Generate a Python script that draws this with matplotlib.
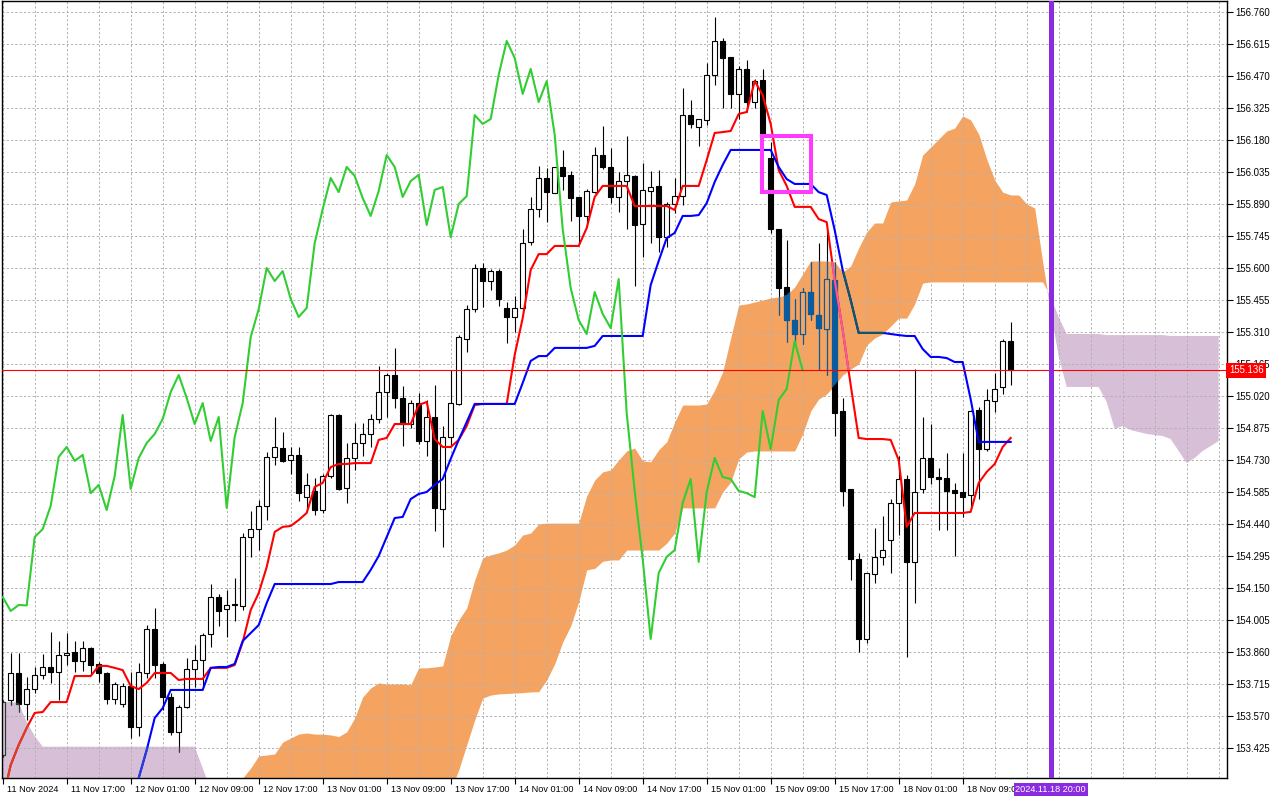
import matplotlib
matplotlib.use("Agg")
import matplotlib.pyplot as plt
import numpy as np
from matplotlib.path import Path
from matplotlib.patches import PathPatch, Rectangle
from matplotlib.transforms import ScaledTranslation, blended_transform_factory

# ---------------- data (USDJPY H1) ----------------
OPEN = [153.393, 153.642, 153.764, 153.624, 153.692, 153.756, 153.792, 153.769, 153.846, 153.860,
        153.819, 153.878, 153.806, 153.765, 153.647, 153.624, 153.706, 153.520, 153.765, 153.964,
        153.806, 153.656, 153.498, 153.611, 153.783, 153.824, 153.942, 154.109, 154.055, 154.078,
        154.068, 154.381, 154.417, 154.522, 154.744, 154.784, 154.730, 154.753, 154.562, 154.590,
        154.503, 154.658, 154.934, 154.603, 154.739, 154.807, 154.848, 154.916, 155.038, 155.115,
        155.011, 154.893, 154.988, 154.816, 154.925, 154.508, 154.834, 154.984, 155.278, 155.414,
        155.600, 155.541, 155.586, 155.419, 155.378, 155.419, 155.718, 155.867, 156.008, 155.940,
        156.058, 156.022, 155.922, 155.836, 155.944, 156.112, 156.058, 155.922, 155.994, 156.017,
        155.799, 155.949, 155.972, 155.740, 155.890, 155.926, 156.293, 156.239, 156.271, 156.475,
        156.629, 156.556, 156.389, 156.502, 156.352, 156.452, 156.099, 155.777, 155.514, 155.364,
        155.301, 155.491, 155.387, 155.324, 155.546, 154.952, 154.599, 154.281, 153.919, 154.214,
        154.291, 154.368, 154.535, 154.644, 154.268, 154.599, 154.739, 154.653, 154.648, 154.594,
        154.585, 154.571, 154.957, 154.780, 154.997, 155.061, 155.269]
HIGH = [153.643, 153.854, 153.855, 153.747, 153.792, 153.851, 153.951, 153.910, 153.946, 153.910,
        153.910, 153.883, 153.815, 153.769, 153.724, 153.720, 153.769, 153.810, 153.982, 154.059,
        153.815, 153.674, 153.620, 153.833, 153.892, 153.946, 154.168, 154.123, 154.141, 154.195,
        154.399, 154.499, 154.549, 154.766, 154.925, 154.857, 154.789, 154.789, 154.671, 154.648,
        154.667, 154.938, 154.938, 154.807, 154.898, 154.898, 154.938, 155.156, 155.124, 155.238,
        155.065, 155.002, 155.034, 155.002, 155.070, 154.884, 155.138, 155.296, 155.432, 155.618,
        155.623, 155.595, 155.595, 155.446, 155.473, 155.777, 155.922, 156.062, 156.053, 156.058,
        156.135, 156.040, 155.922, 155.958, 156.148, 156.244, 156.144, 156.035, 156.198, 156.022,
        156.076, 156.040, 156.044, 155.899, 156.008, 156.416, 156.361, 156.275, 156.529, 156.737,
        156.642, 156.556, 156.515, 156.543, 156.456, 156.502, 156.171, 155.777, 155.727, 155.460,
        155.509, 155.627, 155.713, 155.768, 155.627, 155.011, 154.599, 154.309, 154.218, 154.422,
        154.476, 154.553, 154.748, 154.662, 155.142, 154.925, 154.893, 154.694, 154.762, 154.626,
        154.762, 154.957, 154.970, 155.052, 155.124, 155.278, 155.355]
LOW = [153.384, 153.620, 153.588, 153.552, 153.674, 153.738, 153.720, 153.642, 153.801, 153.769,
       153.774, 153.756, 153.724, 153.624, 153.624, 153.611, 153.470, 153.479, 153.742, 153.742,
       153.597, 153.484, 153.407, 153.606, 153.701, 153.701, 153.883, 153.978, 153.928, 154.000,
       154.050, 154.291, 154.322, 154.458, 154.707, 154.722, 154.667, 154.544, 154.503, 154.481,
       154.490, 154.648, 154.594, 154.535, 154.685, 154.748, 154.789, 154.898, 154.925, 154.966,
       154.793, 154.875, 154.803, 154.748, 154.408, 154.336, 154.793, 154.979, 155.219, 155.401,
       155.423, 155.500, 155.428, 155.260, 155.310, 155.410, 155.704, 155.831, 155.808, 155.940,
       155.954, 155.813, 155.713, 155.786, 155.940, 156.049, 155.894, 155.854, 155.777, 155.518,
       155.650, 155.713, 155.673, 155.695, 155.849, 155.885, 156.234, 156.153, 156.248, 156.429,
       156.325, 156.325, 156.275, 156.307, 156.325, 156.194, 155.759, 155.387, 155.265, 155.256,
       155.256, 155.364, 155.138, 155.115, 154.839, 154.522, 154.186, 153.860, 153.901, 154.173,
       154.254, 154.218, 154.390, 153.837, 154.082, 154.580, 154.621, 154.413, 154.413, 154.295,
       154.472, 154.508, 154.553, 154.771, 154.948, 155.029, 155.070]
CLOSE = [153.633, 153.764, 153.624, 153.692, 153.756, 153.792, 153.769, 153.846, 153.855, 153.819,
         153.878, 153.801, 153.765, 153.647, 153.715, 153.706, 153.520, 153.769, 153.964, 153.801,
         153.656, 153.498, 153.611, 153.783, 153.824, 153.937, 154.109, 154.046, 154.073, 154.071,
         154.381, 154.417, 154.522, 154.744, 154.789, 154.726, 154.753, 154.580, 154.617, 154.503,
         154.658, 154.934, 154.599, 154.739, 154.807, 154.848, 154.916, 155.038, 155.115, 155.011,
         154.893, 154.988, 154.816, 154.925, 154.513, 154.834, 154.988, 155.287, 155.414, 155.600,
         155.541, 155.586, 155.460, 155.378, 155.419, 155.713, 155.867, 156.008, 155.944, 156.058,
         156.017, 155.917, 155.836, 155.949, 156.112, 156.058, 155.922, 155.994, 156.022, 155.795,
         155.954, 155.967, 155.740, 155.890, 155.926, 156.293, 156.253, 156.275, 156.475, 156.629,
         156.552, 156.389, 156.502, 156.352, 156.447, 156.203, 155.777, 155.509, 155.364, 155.301,
         155.491, 155.392, 155.328, 155.550, 154.943, 154.590, 154.281, 153.919, 154.218, 154.291,
         154.322, 154.535, 154.644, 154.268, 154.585, 154.739, 154.653, 154.644, 154.590, 154.580,
         154.562, 154.952, 154.780, 155.002, 155.052, 155.269, 155.136]

TENKAN = [153.189, 153.348, 153.439, 153.516, 153.584, 153.588, 153.633, 153.633, 153.633, 153.751,
          153.751, 153.751, 153.797, 153.797, 153.788, 153.778, 153.706, 153.692, 153.720, 153.765,
          153.765, 153.765, 153.733, 153.738, 153.738, 153.738, 153.788, 153.788, 153.788, 153.801,
          153.905, 154.050, 154.127, 154.245, 154.404, 154.427, 154.431, 154.458, 154.490, 154.608,
          154.626, 154.698, 154.712, 154.712, 154.716, 154.716, 154.716, 154.821, 154.830, 154.893,
          154.893, 154.893, 154.979, 154.993, 154.825, 154.789, 154.789, 154.821, 154.884, 154.979,
          154.984, 154.984, 154.984, 154.984, 155.206, 155.373, 155.591, 155.663, 155.663, 155.700,
          155.700, 155.700, 155.700, 155.781, 155.922, 155.972, 155.972, 155.972, 155.972, 155.881,
          155.881, 155.881, 155.881, 155.881, 155.863, 155.972, 155.972, 155.972, 156.089, 156.212,
          156.216, 156.221, 156.298, 156.307, 156.447, 156.384, 156.253, 156.044, 155.972, 155.877,
          155.877, 155.877, 155.822, 155.808, 155.546, 155.319, 155.070, 154.830, 154.825, 154.825,
          154.825, 154.821, 154.730, 154.427, 154.490, 154.490, 154.490, 154.490, 154.490, 154.490,
          154.490, 154.495, 154.626, 154.676, 154.712, 154.789, 154.830]
KIJUN = [153.099, 153.099, 153.099, 153.099, 153.099, 153.099, 153.099, 153.099, 153.099, 153.099,
         153.099, 153.099, 153.099, 153.099, 153.099, 153.099, 153.189, 153.289, 153.416, 153.561,
         153.606, 153.688, 153.688, 153.688, 153.688, 153.688, 153.788, 153.792, 153.792, 153.806,
         153.910, 153.946, 153.982, 154.082, 154.168, 154.168, 154.168, 154.168, 154.168, 154.168,
         154.168, 154.168, 154.177, 154.177, 154.177, 154.177, 154.232, 154.295, 154.381, 154.467,
         154.472, 154.553, 154.576, 154.585, 154.617, 154.644, 154.735, 154.821, 154.902, 154.984,
         154.984, 154.984, 154.984, 154.984, 154.984, 155.079, 155.179, 155.201, 155.201, 155.238,
         155.238, 155.238, 155.238, 155.238, 155.247, 155.292, 155.292, 155.292, 155.292, 155.292,
         155.292, 155.523, 155.632, 155.736, 155.759, 155.836, 155.836, 155.840, 155.894, 155.990,
         156.067, 156.135, 156.135, 156.135, 156.135, 156.135, 156.135, 156.058, 156.003, 155.981,
         155.981, 155.981, 155.944, 155.931, 155.772, 155.591, 155.455, 155.306, 155.306, 155.306,
         155.306, 155.301, 155.296, 155.292, 155.292, 155.233, 155.197, 155.197, 155.192, 155.174,
         155.174, 155.005, 154.812, 154.812, 154.812, 154.812, 154.812]
SPAN_A = [153.099, 153.099, 153.099, 153.099, 153.099, 153.099, 153.099, 153.099, 153.099, 153.099,
          153.099, 153.099, 153.099, 153.099, 153.099, 153.099, 153.099, 153.099, 153.099, 153.099,
          153.099, 153.099, 153.099, 153.099, 153.099, 153.099, 153.099, 153.122, 153.167, 153.235,
          153.289, 153.334, 153.389, 153.393, 153.398, 153.452, 153.470, 153.488, 153.493, 153.488,
          153.488, 153.484, 153.477, 153.498, 153.561, 153.656, 153.697, 153.720, 153.715, 153.715,
          153.715, 153.711, 153.788, 153.788, 153.792, 153.797, 153.933, 154.005, 154.059, 154.186,
          154.287, 154.300, 154.309, 154.322, 154.345, 154.390, 154.399, 154.440, 154.444, 154.444,
          154.444, 154.444, 154.444, 154.567, 154.639, 154.676, 154.685, 154.730, 154.771, 154.784,
          154.726, 154.722, 154.776, 154.812, 154.902, 154.979, 154.979, 154.979, 154.984, 155.047,
          155.129, 155.283, 155.432, 155.437, 155.446, 155.455, 155.464, 155.469, 155.478, 155.514,
          155.573, 155.632, 155.632, 155.632, 155.627, 155.582, 155.609, 155.691, 155.763, 155.804,
          155.804, 155.899, 155.904, 155.908, 155.981, 156.112, 156.148, 156.185, 156.221, 156.234,
          156.289, 156.271, 156.207, 156.094, 155.999, 155.944, 155.931, 155.931, 155.890, 155.872,
          155.627, 155.401, 155.201, 155.061, 155.061, 155.061, 155.061, 155.061, 154.993, 154.871,
          154.884, 154.866, 154.857, 154.848, 154.843, 154.839, 154.825, 154.771, 154.716, 154.739,
          154.771, 154.793, 154.816]
SPAN_B = [153.635, 153.633, 153.629, 153.543, 153.479, 153.431, 153.431, 153.431, 153.431, 153.431,
          153.431, 153.431, 153.431, 153.431, 153.431, 153.431, 153.431, 153.431, 153.431, 153.431,
          153.431, 153.431, 153.431, 153.431, 153.431, 153.334, 153.235, 153.167, 153.144, 153.099,
          153.099, 153.099, 153.099, 153.099, 153.099, 153.099, 153.099, 153.099, 153.099, 153.099,
          153.099, 153.099, 153.099, 153.099, 153.099, 153.099, 153.099, 153.099, 153.099, 153.099,
          153.099, 153.099, 153.099, 153.099, 153.099, 153.099, 153.235, 153.325, 153.439, 153.552,
          153.651, 153.665, 153.670, 153.672, 153.674, 153.676, 153.679, 153.680, 153.733, 153.806,
          153.905, 153.978, 154.087, 154.232, 154.239, 154.271, 154.277, 154.277, 154.322, 154.322,
          154.322, 154.322, 154.322, 154.353, 154.399, 154.513, 154.513, 154.513, 154.513, 154.513,
          154.585, 154.630, 154.735, 154.766, 154.771, 154.771, 154.771, 154.771, 154.771, 154.771,
          154.848, 154.952, 155.006, 155.029, 155.070, 155.115, 155.142, 155.165, 155.251, 155.283,
          155.301, 155.337, 155.373, 155.373, 155.437, 155.532, 155.537, 155.537, 155.537, 155.537,
          155.537, 155.537, 155.537, 155.537, 155.537, 155.537, 155.537, 155.537, 155.537, 155.537,
          155.537, 155.469, 155.378, 155.301, 155.301, 155.301, 155.301, 155.301, 155.296, 155.296,
          155.296, 155.296, 155.296, 155.296, 155.296, 155.296, 155.292, 155.292, 155.292, 155.292,
          155.292, 155.292, 155.292]
CHIKOU_SHIFT = 26

XTICK_BARS = [0, 8, 16, 24, 32, 40, 48, 56, 64, 72, 80, 88, 96, 104, 112, 120]
XTICK_LABELS = ["11 Nov 2024", "11 Nov 17:00", "12 Nov 01:00", "12 Nov 09:00",
                "12 Nov 17:00", "13 Nov 01:00", "13 Nov 09:00", "13 Nov 17:00",
                "14 Nov 01:00", "14 Nov 09:00", "14 Nov 17:00", "15 Nov 01:00",
                "15 Nov 09:00", "15 Nov 17:00", "18 Nov 01:00", "18 Nov 09:00"]
YTICKS = [153.425, 153.570, 153.715, 153.860, 154.005, 154.150, 154.295, 154.440,
          154.585, 154.730, 154.875, 155.020, 155.165, 155.310, 155.455, 155.600,
          155.745, 155.890, 156.035, 156.180, 156.325, 156.470, 156.615, 156.760]
VLINE_BAR = 131
VLINE_LABEL = "2024.11.18 20:00"
BOX_X0, BOX_X1, BOX_TOP, BOX_BOTTOM = 94.9, 101.0, 156.198, 155.944

# ---------------- style ----------------
plt.rcParams['font.family'] = ['Liberation Sans', 'DejaVu Sans']
ORANGE, THISTLE = '#F4A460', '#D8BFD8'

fig = plt.figure(figsize=(12.8, 8), dpi=100)
ax = fig.add_axes([2 / 1280, 22 / 800, 1225 / 1280, 777 / 800])
ax.set_xlim(-0.0875, 153.04)
ax.set_ylim(153.289, 156.810)

O, H, L, C = (np.array(v) for v in (OPEN, HIGH, LOW, CLOSE))
x = np.arange(len(C))
xc = np.arange(len(SPAN_A))
A, B = np.array(SPAN_A), np.array(SPAN_B)

# cloud
up_cloud = ax.fill_between(xc, A, B, where=A >= B, interpolate=True, color=ORANGE, lw=0, zorder=1)
dn_cloud = ax.fill_between(xc, A, B, where=A < B, interpolate=True, color=THISTLE, lw=0, zorder=1)


def clip_patch(coll):
    paths = coll.get_paths()
    return PathPatch(Path.make_compound_path(*paths), transform=ax.transData)


clip_up = clip_patch(up_cloud)
clip_dn = clip_patch(dn_cloud)

# candles
is_up = C >= O
body_bot = np.minimum(O, C)
body_h = np.abs(C - O)


def draw_candles(edge, black_fill, white_fill, z, clip=None):
    w = ax.vlines(x, L, H, colors=edge, linewidth=0.8, zorder=z)
    fills = [white_fill if u else black_fill for u in is_up]
    bars = ax.bar(x, body_h, bottom=body_bot, width=0.62, color=fills,
                  edgecolor=edge, linewidth=0.8, zorder=z + 0.01)
    if clip is not None:
        w.set_clip_path(clip)
        for r in bars:
            r.set_clip_path(clip)


draw_candles('black', 'black', 'white', 2.0)
draw_candles('#0B5B9F', '#0B5B9F', ORANGE, 2.2, clip_up)
draw_candles('#274027', '#274027', THISTLE, 2.2, clip_dn)

# ichimoku lines
ax.plot(x, TENKAN, color='#FF0000', lw=1.5, zorder=3.0)
l, = ax.plot(x, TENKAN, color='#F45B9F', lw=1.5, zorder=3.05); l.set_clip_path(clip_up)
l, = ax.plot(x, TENKAN, color='#D84027', lw=1.5, zorder=3.05); l.set_clip_path(clip_dn)
ax.plot(x, KIJUN, color='#0000FF', lw=1.5, zorder=3.1)
l, = ax.plot(x, KIJUN, color='#0B5B60', lw=1.5, zorder=3.15); l.set_clip_path(clip_up)
l, = ax.plot(x, KIJUN, color='#2740D8', lw=1.5, zorder=3.15); l.set_clip_path(clip_dn)
ax.plot(x[:len(C) - CHIKOU_SHIFT], C[CHIKOU_SHIFT:], color='#32CD32', lw=1.5, zorder=3.5)

# current price line
ax.axhline(C[-1], color='#FF0000', lw=0.8, zorder=4)
# vertical marker line
ax.axvline(VLINE_BAR, color='#8A2BE2', lw=3.6, zorder=4.5)
# magenta box
ax.add_patch(Rectangle((BOX_X0, BOX_BOTTOM), BOX_X1 - BOX_X0, BOX_TOP - BOX_BOTTOM,
                       fill=False, ec='#FF3BFF', lw=2.9, zorder=5))

# axes / ticks / grid
ax.set_axisbelow('line')
ax.yaxis.tick_right()
ax.set_yticks(YTICKS)
ax.set_yticklabels([f"{v:.3f}" for v in YTICKS])
ax.set_xticks(XTICK_BARS)
ax.set_xticklabels(XTICK_LABELS)
ax.set_xticks(np.arange(0, 156, 4), minor=True)
ax.grid(which='both', color='#b0b0b0', linestyle=(0, (2.2, 2.2)), linewidth=0.7)
ax.tick_params(axis='y', which='major', direction='out', length=4, width=0.8, pad=2,
               labelsize=6.9, colors='black')
ax.tick_params(axis='x', which='major', direction='out', length=4, width=0.8, pad=1,
               labelsize=6.6, colors='black')
ax.tick_params(axis='x', which='minor', length=0)
off = ScaledTranslation(4 / 100, 0, fig.dpi_scale_trans)
for lab in ax.get_xticklabels():
    lab.set_horizontalalignment('left')
    lab.set_transform(lab.get_transform() + off)
for s in ax.spines.values():
    s.set_color('black')
    s.set_linewidth(1.0)

# price label on right axis
tr_y = blended_transform_factory(ax.transAxes, ax.transData)
ax.text(1.0015, C[-1], f"{C[-1]:.3f}", transform=tr_y, ha='left', va='center', color='white',
        fontsize=6.9, zorder=10, clip_on=False,
        bbox=dict(boxstyle='square,pad=0.25', fc='#FF0000', ec='none'))
# time label under the vertical line
tr_x = blended_transform_factory(ax.transData, ax.transAxes)
ax.text(VLINE_BAR, -0.0145, VLINE_LABEL, transform=tr_x, ha='center', va='center', color='white',
        fontsize=6.6, zorder=10, clip_on=False,
        bbox=dict(boxstyle='square,pad=0.2', fc='#8A2BE2', ec='none'))

fig.savefig('out.png', dpi=100, facecolor='white')
